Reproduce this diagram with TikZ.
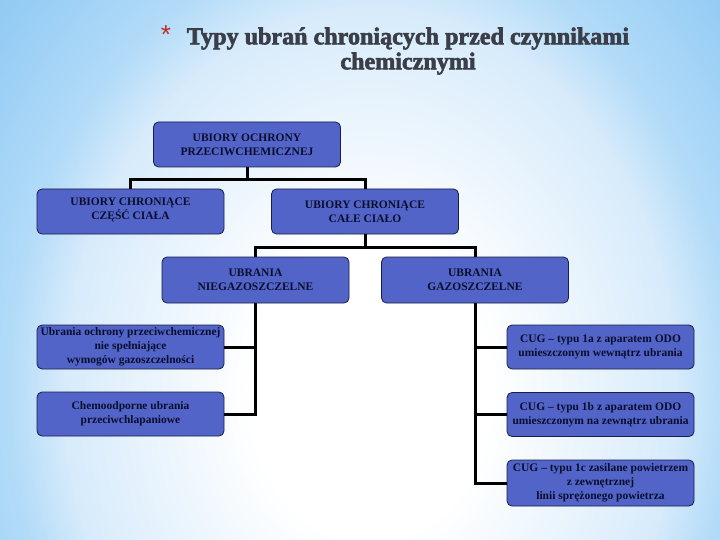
\documentclass[tikz,border=0pt]{standalone}
\usepackage{fontspec}
\setmainfont{Liberation Serif}
\newfontfamily\titlefont[BoldFeatures={FakeBold=2.5}]{Liberation Serif}
\newfontfamily\starfont{Liberation Sans}
\usetikzlibrary{calc,positioning}

\definecolor{boxblue}{RGB}{82,100,200}
\definecolor{boxline}{RGB}{25,30,70}
\definecolor{boxtext}{RGB}{10,14,45}
\definecolor{titlegray}{RGB}{58,62,72}
\definecolor{starred}{RGB}{190,45,35}
\definecolor{bgmid}{RGB}{215,235,251}
\definecolor{bgedge}{RGB}{178,219,248}
\definecolor{bgout}{RGB}{145,202,244}

\pgfdeclareradialshading{bgglow}{\pgfpoint{0bp}{0bp}}{color(0bp)=(white); color(150bp)=(white); color(380bp)=(bgmid); color(450bp)=(bgedge); color(600bp)=(bgout)}

\tikzset{
  orgbox/.style={draw=boxline, fill=boxblue, rounded corners=5pt, line width=0.8pt,
    minimum width=187pt, minimum height=45pt, inner sep=0pt, align=center,
    text=boxtext, font=\fontsize{11.5}{14}\selectfont\bfseries},
  link/.style={line width=3pt, black},
}

\begin{document}
\begin{tikzpicture}[x=1pt,y=-1pt]
    % background
    \fill[bgout] (0,0) rectangle (720,540);
    \begin{scope}
      \clip (0,0) rectangle (720,540);
      \node[inner sep=0pt, xscale=0.8, transform shape] (glow) at (370,390) {\pgfuseshading{bgglow}};
    \end{scope}
    \useasboundingbox (0,0) rectangle (720,540);

    % title
    \node[font=\starfont\fontsize{26}{26}\selectfont, text=starred] (star) at (166,35) {*};
    \node[font=\titlefont\bfseries\fontsize{24.1}{25}\selectfont, text=titlegray, align=center, anchor=north]
      (title) at (408,24) {Typy ubrań chroniących przed czynnikami\\chemicznymi};

    % boxes
    \node[orgbox] (top) at (247,144.5) {UBIORY OCHRONY\\PRZECIWCHEMICZNEJ};
    \node[orgbox, text depth=6pt] (part) at (130.5,211.5) {UBIORY CHRONIĄCE\\CZĘŚĆ CIAŁA};
    \node[orgbox] (whole) at (365,211.5) {UBIORY CHRONIĄCE\\CAŁE CIAŁO};
    \node[orgbox, minimum height=46pt] (nongas) at (255.5,280) {UBRANIA\\NIEGAZOSZCZELNE};
    \node[orgbox, minimum height=46pt] (gas) at (475,280) {UBRANIA\\GAZOSZCZELNE};
    \node[orgbox, minimum height=44pt] (nong1) at (130.5,347)
      {Ubrania ochrony przeciwchemicznej\\nie spełniające\\wymogów gazoszczelności};
    \node[orgbox, minimum height=44pt] (nong2) at (130.5,414)
      {Chemoodporne ubrania\\przeciwchlapaniowe};
    \node[orgbox, minimum height=44pt] (gas1) at (600.5,347)
      {CUG – typu 1a z aparatem ODO\\umieszczonym wewnątrz ubrania};
    \node[orgbox, minimum height=44pt] (gas2) at (600.5,414.5)
      {CUG – typu 1b z aparatem ODO\\umieszczonym na zewnątrz ubrania};
    \node[orgbox, minimum height=46pt] (gas3) at (600.5,483)
      {CUG – typu 1c zasilane powietrzem\\z zewnętrznej\\linii sprężonego powietrza};

    % connectors
    \coordinate (bus1) at (247,180);
    \coordinate (bus2) at (365,247);
    \draw[link] (top.south) -- (bus1);
    \draw[link] (part.north) |- (bus1) -| (whole.north);
    \draw[link] (whole.south) -- (bus2);
    \draw[link] (nongas.north) |- (bus2) -| (gas.north);
    \draw[link] (nongas.south) |- (nong2.east);
    \draw[link] (nong1.east) -- (nong1.east -| nongas.south);
    \draw[link] (gas.south) |- (gas3.west);
    \draw[link] (gas1.west) -- (gas1.west -| gas.south);
    \draw[link] (gas2.west) -- (gas2.west -| gas.south);
\end{tikzpicture}
\end{document}
